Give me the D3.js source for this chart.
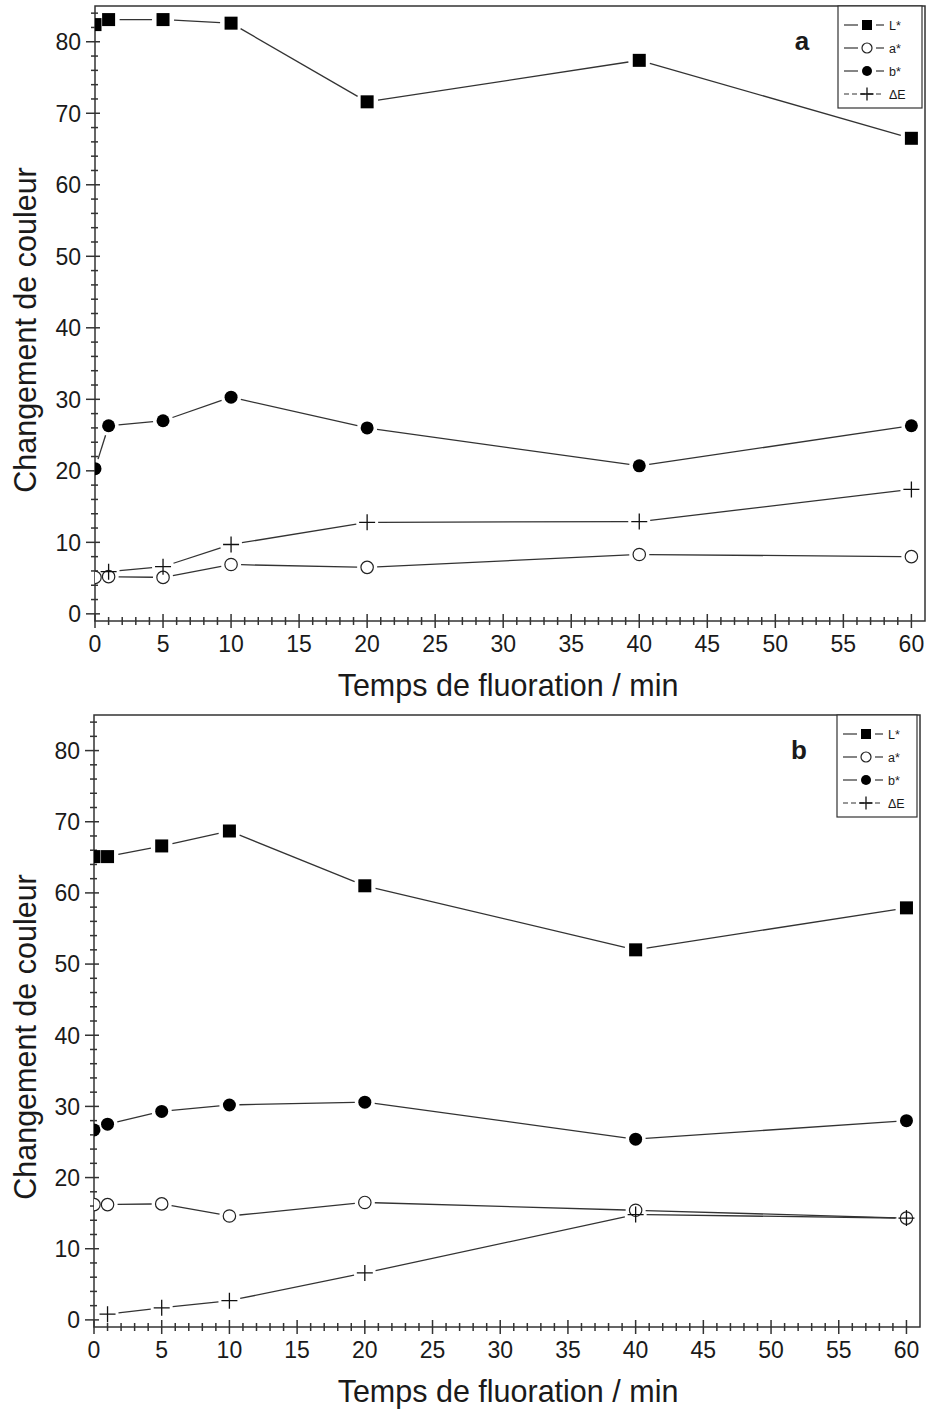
<!DOCTYPE html>
<html>
<head>
<meta charset="utf-8">
<script src="https://cdn.jsdelivr.net/npm/d3@7"></script>
<style>
  body { margin: 0; background: #fff; }
  svg text { font-family: "Liberation Sans", Arial, sans-serif; fill: #1a1a1a; }
</style>
</head>
<body>
<div id="chart"></div>
<script>
// fluoration time (min)
const times = [0, 1, 5, 10, 20, 40, 60];
const timesDeltaE = [1, 5, 10, 20, 40, 60];

// panel a
const aL = [82.4, 83.1, 83.1, 82.6, 71.6, 77.4, 66.5];
const aA = [5.1, 5.2, 5.1, 6.9, 6.5, 8.3, 8.0];
const aB = [20.3, 26.3, 27.0, 30.3, 26.0, 20.7, 26.3];
const aDE = [5.9, 6.6, 9.7, 12.8, 12.9, 17.4];

// panel b
const bL = [65.1, 65.1, 66.6, 68.7, 61.0, 52.0, 57.9];
const bA = [16.2, 16.2, 16.3, 14.6, 16.5, 15.4, 14.3];
const bB = [26.7, 27.5, 29.3, 30.2, 30.6, 25.4, 28.0];
const bDE = [0.8, 1.7, 2.7, 6.6, 14.8, 14.3];

const seriesNames = ["L*", "a*", "b*", "\u0394E"];
const seriesSymbols = ["square", "open", "dot", "plus"];
const xTicks = d3.range(0, 61, 5);
const yTicks = d3.range(0, 81, 10);

const width = 928, height = 1410;
const ink = "#333";

const svg = d3.select("#chart").append("svg")
  .attr("width", width)
  .attr("height", height);

svg.append("rect").attr("width", width).attr("height", height).attr("fill", "#fff");

// draw a marker of given type into g at (x,y)
function marker(g, type, x, y, s) {
  if (type === "square") {
    g.append("rect").attr("x", x - s).attr("y", y - s)
      .attr("width", 2 * s).attr("height", 2 * s).attr("fill", "#000");
  } else if (type === "open") {
    g.append("circle").attr("cx", x).attr("cy", y).attr("r", s)
      .attr("fill", "#fff").attr("stroke", "#222").attr("stroke-width", 1.2);
  } else if (type === "dot") {
    g.append("circle").attr("cx", x).attr("cy", y).attr("r", s).attr("fill", "#000");
  } else {
    const p = s + 1.5;
    g.append("path").attr("d", `M${x - p},${y}H${x + p}M${x},${y - p}V${y + p}`)
      .attr("stroke", "#111").attr("stroke-width", 1.3).attr("fill", "none");
  }
}

function drawPanel(cfg) {
  const x = d3.scaleLinear().domain([0, 61]).range([cfg.left, cfg.right]);
  const y = d3.scaleLinear().domain([-1, 85]).range([cfg.bottom, cfg.top]);

  const g = svg.append("g");
  const clipId = "clip-" + cfg.label;
  svg.append("clipPath").attr("id", clipId).append("rect")
    .attr("x", cfg.left).attr("y", cfg.top)
    .attr("width", cfg.right - cfg.left).attr("height", cfg.bottom - cfg.top);

  // frame
  g.append("rect")
    .attr("x", cfg.left).attr("y", cfg.top)
    .attr("width", cfg.right - cfg.left).attr("height", cfg.bottom - cfg.top)
    .attr("fill", "none").attr("stroke", ink).attr("stroke-width", 1.5);

  // y ticks (minor every 2, major every 10)
  const yt = g.append("g").attr("stroke", ink).attr("stroke-width", 1.5);
  d3.range(0, 85, 2).forEach(v => {
    const major = v % 10 === 0;
    yt.append("line")
      .attr("x1", cfg.left - (major ? 9 : 4)).attr("x2", cfg.left + (major ? 5 : 3))
      .attr("y1", y(v)).attr("y2", y(v));
  });
  g.selectAll(".ylab").data(yTicks).join("text")
    .attr("x", cfg.left - 14).attr("y", d => y(d))
    .attr("dy", "0.36em").attr("text-anchor", "end")
    .attr("font-size", 23).text(d => d);

  // x ticks (minor every 1, major every 5)
  const xt = g.append("g").attr("stroke", ink).attr("stroke-width", 1.5);
  d3.range(0, 61, 1).forEach(v => {
    const major = v % 5 === 0;
    xt.append("line")
      .attr("x1", x(v)).attr("x2", x(v))
      .attr("y1", cfg.bottom - (major ? 7 : 4)).attr("y2", cfg.bottom + (major ? 7 : 4));
  });
  g.selectAll(".xlab").data(xTicks).join("text")
    .attr("x", d => x(d)).attr("y", cfg.bottom + 31)
    .attr("text-anchor", "middle").attr("font-size", 23).text(d => d);

  // axis titles
  g.append("text")
    .attr("transform", `translate(36,${cfg.yTitleY}) rotate(-90)`)
    .attr("text-anchor", "middle").attr("font-size", 30.5)
    .text("Changement de couleur");
  g.append("text")
    .attr("x", 508).attr("y", cfg.bottom + 75)
    .attr("text-anchor", "middle").attr("font-size", 30.5)
    .text("Temps de fluoration / min");

  // series
  const plot = g.append("g").attr("clip-path", `url(#${clipId})`);
  const series = [
    { xs: times, ys: cfg.L, type: "square", s: 6.5, gap: 11 },
    { xs: times, ys: cfg.A, type: "open", s: 6.2, gap: 10 },
    { xs: times, ys: cfg.B, type: "dot", s: 6.5, gap: 10 },
    { xs: timesDeltaE, ys: cfg.DE, type: "plus", s: 6.5, gap: 11 }
  ];
  series.forEach(se => {
    const pts = se.xs.map((t, i) => [x(t), y(se.ys[i])]);
    for (let i = 0; i < pts.length - 1; i++) {
      const [x0, y0] = pts[i], [x1, y1] = pts[i + 1];
      const len = Math.hypot(x1 - x0, y1 - y0);
      if (len <= 2 * se.gap) continue;
      const ux = (x1 - x0) / len, uy = (y1 - y0) / len;
      plot.append("line")
        .attr("x1", x0 + ux * se.gap).attr("y1", y0 + uy * se.gap)
        .attr("x2", x1 - ux * se.gap).attr("y2", y1 - uy * se.gap)
        .attr("stroke", ink).attr("stroke-width", 1.3);
    }
    pts.forEach(p => marker(plot, se.type, p[0], p[1], se.s));
  });

  // legend
  const lg = g.append("g");
  lg.append("rect")
    .attr("x", cfg.legX).attr("y", cfg.top)
    .attr("width", cfg.right - cfg.legX - 3).attr("height", 102)
    .attr("fill", "#fff").attr("stroke", ink).attr("stroke-width", 1.2);
  seriesNames.forEach((name, i) => {
    const ly = cfg.top + 19 + i * 23;
    const mx = cfg.legX + 29;
    const row = lg.append("g");
    if (i === 3) {
      row.append("line").attr("x1", cfg.legX + 6).attr("x2", cfg.legX + 46)
        .attr("y1", ly).attr("y2", ly).attr("stroke", ink).attr("stroke-width", 1.2)
        .attr("stroke-dasharray", "5,3");
    } else {
      row.append("line").attr("x1", cfg.legX + 6).attr("x2", mx - 9)
        .attr("y1", ly).attr("y2", ly).attr("stroke", ink).attr("stroke-width", 1.2);
      row.append("line").attr("x1", mx + 9).attr("x2", cfg.legX + 46)
        .attr("y1", ly).attr("y2", ly).attr("stroke", ink).attr("stroke-width", 1.2);
    }
    marker(row, seriesSymbols[i], mx, ly, 5);
    row.append("text").attr("x", cfg.legX + 51).attr("y", ly).attr("dy", "0.36em")
      .attr("font-size", 12.5).text(name);
  });

  // panel letter
  g.append("text")
    .attr("x", cfg.letterX).attr("y", cfg.top + 44)
    .attr("text-anchor", "middle").attr("font-size", 26).attr("font-weight", "bold")
    .text(cfg.label);
}

drawPanel({
  label: "a", left: 95, right: 925, top: 6, bottom: 621,
  yTitleY: 330, legX: 838, letterX: 802,
  L: aL, A: aA, B: aB, DE: aDE
});

drawPanel({
  label: "b", left: 94, right: 920, top: 715, bottom: 1327,
  yTitleY: 1037, legX: 837, letterX: 799,
  L: bL, A: bA, B: bB, DE: bDE
});
</script>
</body>
</html>
